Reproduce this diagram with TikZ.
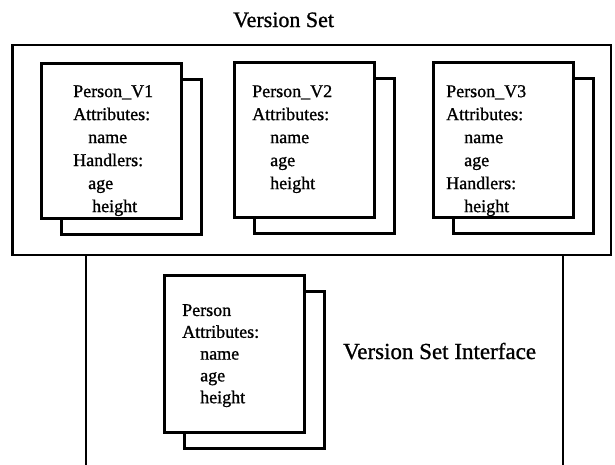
\documentclass[tikz,border=0pt]{standalone}
\usepackage{fontspec}
\setmainfont[FakeBold=1]{Liberation Serif}
\begin{document}
\begin{tikzpicture}[x=1pt,y=-1pt,
  frame/.style={line width=2.4pt},
  card/.style={draw, line width=2.6pt, fill=white, minimum width=140pt, minimum height=155pt, inner sep=0pt, anchor=north west},
  txt/.style={font=\fontsize{18}{23}\selectfont, align=left, anchor=north west, inner sep=0pt},
  title/.style={font=\fontsize{22}{24}\selectfont, anchor=base west, inner sep=0pt}]
\useasboundingbox (0,0) rectangle (615,464);
\fill[white] (0,0) rectangle (615,464);
% title
\node[title] (vstitle) at (233,27) {Version Set};
% outer version set box
\draw[frame] (12.5,45) rectangle (611,255);
% interface box (open at the bottom)
\coordinate (ibl) at (86,466);
\coordinate (ibr) at (563,466);
\draw[frame] (ibl) -- (86,255) -- (563,255) -- (ibr);
% card 1
\node[card] (b1) at (60,78) {};
\node[card] (f1) at (40,62) {};
\node[txt] (t1) at ([shift={(33,23)}]f1.north west) {Person\_V1\\Attributes:\\\hspace*{15pt}name\\Handlers:\\\hspace*{15pt}age\\\hspace*{19pt}height};
% card 2
\node[card] (b2) at (253,77) {};
\node[card] (f2) at (233,61) {};
\node[txt] (t2) at ([shift={(19,24)}]f2.north west) {Person\_V2\\Attributes:\\\hspace*{18pt}name\\\hspace*{18pt}age\\\hspace*{18pt}height};
% card 3
\node[card] (b3) at (452,77) {};
\node[card] (f3) at (432,61) {};
\node[txt] (t3) at ([shift={(14,24)}]f3.north west) {Person\_V3\\Attributes:\\\hspace*{18pt}name\\\hspace*{18pt}age\\Handlers:\\\hspace*{18pt}height};
% interface card
\node[card, minimum height=157pt] (b4) at (183,290) {};
\node[card, minimum height=157pt] (f4) at (163,274) {};
\node[txt, font=\fontsize{18}{21.8}\selectfont] (t4) at ([shift={(19,30)}]f4.north west) {Person\\Attributes:\\\hspace*{18pt}name\\\hspace*{18pt}age\\\hspace*{18pt}height};
\node[title, font=\fontsize{23}{25}\selectfont] (vsi) at (343,359) {Version Set Interface};
\end{tikzpicture}
\end{document}
